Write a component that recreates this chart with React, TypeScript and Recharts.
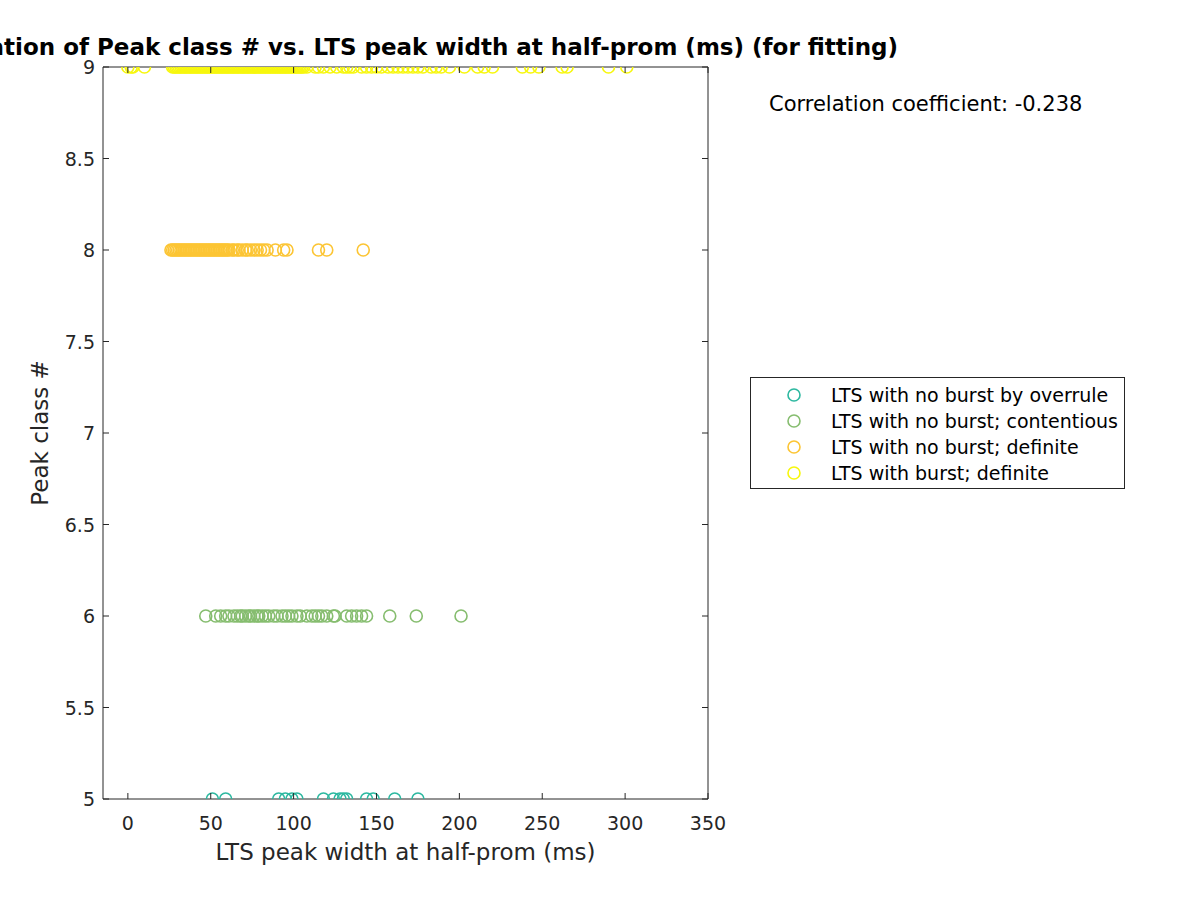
import React from 'react';
import { ScatterChart, Scatter, XAxis, YAxis, Legend } from 'recharts';

const seriesNames = [
  'LTS with no burst by overrule',
  'LTS with no burst; contentious',
  'LTS with no burst; definite',
  'LTS with burst; definite',
];
const seriesColors = ['#2db8a0', '#86bd6f', '#fcc534', '#f7f70d'];
const peakClasses = [5, 6, 8, 9];

const overruleWidths = [51, 59, 91, 95, 99, 102, 118, 124, 128, 130, 132, 144, 148, 161, 175];
const contentiousWidths = [
  47, 53, 56, 59, 61, 64, 66, 68, 69, 71, 73, 74, 76, 78, 79, 81, 83, 85, 88, 90, 93, 95, 97,
  99, 102, 104, 108, 111, 113, 115, 117, 120, 124, 125, 132, 135, 138, 141, 144, 158, 174, 201,
];
const definiteNoBurstWidths = [
  26, 27, 28, 29, 30, 31, 32, 33, 34, 35, 36, 37, 38, 39, 40, 41, 42, 43, 44, 45, 46, 47, 48,
  49, 50, 51, 52, 53, 54, 55, 56, 57, 58, 59, 60, 61, 63, 64, 66, 67, 69, 71, 72, 74, 76, 78,
  80, 82, 84, 89, 94, 96, 115, 120, 142,
];
const burstWidths = [
  0, 2, 3, 10, 27, 28, 29, 30, 31, 32, 33, 34, 35, 36, 37, 38, 39, 40, 41, 42, 43, 44, 45, 46, 47,
  48, 49, 50, 51, 52, 53, 54, 55, 56, 57, 58, 59, 60, 61, 62, 63, 64, 65, 66, 67, 68, 69, 70,
  71, 72, 73, 74, 75, 76, 77, 78, 79, 80, 81, 82, 83, 84, 85, 86, 87, 88, 89, 90, 91, 92, 93,
  94, 95, 96, 97, 98, 99, 100, 101, 102, 103, 104, 105, 106, 108, 113, 115, 118, 122, 126, 130,
  132, 134, 136, 141, 144, 147, 150, 153, 157, 160, 163, 166, 169, 172, 175, 178, 183, 186, 189,
  194, 203, 211, 215, 220, 238, 243, 248, 262, 265, 290, 301,
];
const seriesWidths = [overruleWidths, contentiousWidths, definiteNoBurstWidths, burstWidths];

const xTicks = [0, 50, 100, 150, 200, 250, 300, 350];
const yTicks = [5, 5.5, 6, 6.5, 7, 7.5, 8, 8.5, 9];
const xDomain = [-15, 350];
const yDomain = [5, 9];

const titleText = 'Correlation of Peak class # vs. LTS peak width at half-prom (ms) (for fitting)';
const corrText = 'Correlation coefficient: -0.238';
const xLabel = 'LTS peak width at half-prom (ms)';
const yLabel = 'Peak class #';

const FONT = '"DejaVu Sans", sans-serif';
const AX = '#262626';
const TICK_FS = 19;
const LABEL_FS = 23;

const seriesData = seriesWidths.map((ws, i) => ws.map((w) => ({ x: w, y: peakClasses[i] })));

const ringShape = (color: string) => (props: any) => {
  const { cx, cy } = props;
  if (cx == null || cy == null) return <g />;
  return <circle cx={cx} cy={cy} r={6} fill="none" stroke={color} strokeWidth={1.6} />;
};

const BottomTick = (props: any) => {
  const { x, y, payload } = props;
  return (
    <g>
      <line x1={x} x2={x} y1={y} y2={y - 6} stroke={AX} />
      <text x={x} y={y + 31} textAnchor="middle" fontSize={TICK_FS} fill={AX} fontFamily={FONT}>
        {payload.value}
      </text>
    </g>
  );
};
const TopTick = (props: any) => {
  const { x, y } = props;
  return <line x1={x} x2={x} y1={y} y2={y + 6} stroke={AX} />;
};
const LeftTick = (props: any) => {
  const { x, y, payload } = props;
  return (
    <g>
      <line x1={x} x2={x + 6} y1={y} y2={y} stroke={AX} />
      <text x={x - 8} y={y + 7} textAnchor="end" fontSize={TICK_FS} fill={AX} fontFamily={FONT}>
        {payload.value}
      </text>
    </g>
  );
};
const RightTick = (props: any) => {
  const { x, y } = props;
  return <line x1={x} x2={x - 6} y1={y} y2={y} stroke={AX} />;
};

const LegendBox = () => (
  <div
    style={{
      width: 375,
      height: 112,
      border: '1px solid #262626',
      background: '#fff',
      boxSizing: 'border-box',
      paddingTop: 4,
      fontFamily: FONT,
      fontSize: TICK_FS,
      color: '#000',
    }}
  >
    {seriesNames.map((n, i) => (
      <div key={n} style={{ display: 'flex', alignItems: 'center', height: 26 }}>
        <svg width={80} height={26} style={{ flex: 'none' }}>
          <circle cx={43} cy={13} r={6} fill="none" stroke={seriesColors[i]} strokeWidth={1.6} />
        </svg>
        <span>{n}</span>
      </div>
    ))}
  </div>
);

export default function App() {
  return (
    <div style={{ position: 'absolute', left: 0, top: 0, width: 1200, height: 900, background: '#fff', overflow: 'hidden' }}>
      <ScatterChart
        width={1200}
        height={900}
        margin={{ top: 66, right: 491, bottom: 51, left: 0 }}
      >
        <XAxis
          xAxisId="b"
          type="number"
          dataKey="x"
          domain={xDomain}
          ticks={xTicks}
          allowDataOverflow
          height={50}
          tickSize={0}
          tickMargin={0}
          tick={<BottomTick />}
          axisLine={{ stroke: AX }}
          tickLine={false}
          label={{ value: xLabel, position: 'insideBottom', offset: -11, fontSize: LABEL_FS, fill: AX, fontFamily: FONT }}
        />
        <XAxis
          xAxisId="t"
          orientation="top"
          type="number"
          dataKey="x"
          domain={xDomain}
          ticks={xTicks}
          allowDataOverflow
          height={1}
          tickSize={0}
          tickMargin={0}
          tick={<TopTick />}
          axisLine={{ stroke: AX }}
          tickLine={false}
        />
        <YAxis
          yAxisId="l"
          type="number"
          dataKey="y"
          domain={yDomain}
          ticks={yTicks}
          allowDataOverflow
          width={103}
          tickSize={0}
          tickMargin={0}
          tick={<LeftTick />}
          axisLine={{ stroke: AX }}
          tickLine={false}
          label={{ value: yLabel, angle: -90, position: 'insideLeft', offset: 40, fontSize: LABEL_FS, fill: AX, fontFamily: FONT, style: { textAnchor: 'middle' } }}
        />
        <YAxis
          yAxisId="r"
          orientation="right"
          type="number"
          dataKey="y"
          domain={yDomain}
          ticks={yTicks}
          allowDataOverflow
          width={1}
          tickSize={0}
          tickMargin={0}
          tick={<RightTick />}
          axisLine={{ stroke: AX }}
          tickLine={false}
        />
        {seriesData.map((d, i) => (
          <Scatter
            key={seriesNames[i]}
            name={seriesNames[i]}
            data={d}
            xAxisId="b"
            yAxisId="l"
            fill="none"
            stroke={seriesColors[i]}
            shape={ringShape(seriesColors[i])}
            isAnimationActive={false}
          />
        ))}
        <Legend
          layout="vertical"
          align="center"
          verticalAlign="middle"
          content={<LegendBox />}
          wrapperStyle={{ position: 'absolute', left: 750, top: 377, width: 375, height: 112 }}
        />
      </ScatterChart>
      <div
        style={{
          position: 'absolute',
          right: 1200 - 898,
          top: 32,
          whiteSpace: 'nowrap',
          fontFamily: FONT,
          fontWeight: 'bold',
          fontSize: 23,
          color: '#000',
          lineHeight: '30px',
        }}
      >
        {titleText}
      </div>
      <div
        style={{
          position: 'absolute',
          left: 769,
          top: 90,
          whiteSpace: 'nowrap',
          fontFamily: FONT,
          fontSize: 21,
          color: '#000',
          lineHeight: '28px',
        }}
      >
        {corrText}
      </div>
    </div>
  );
}
